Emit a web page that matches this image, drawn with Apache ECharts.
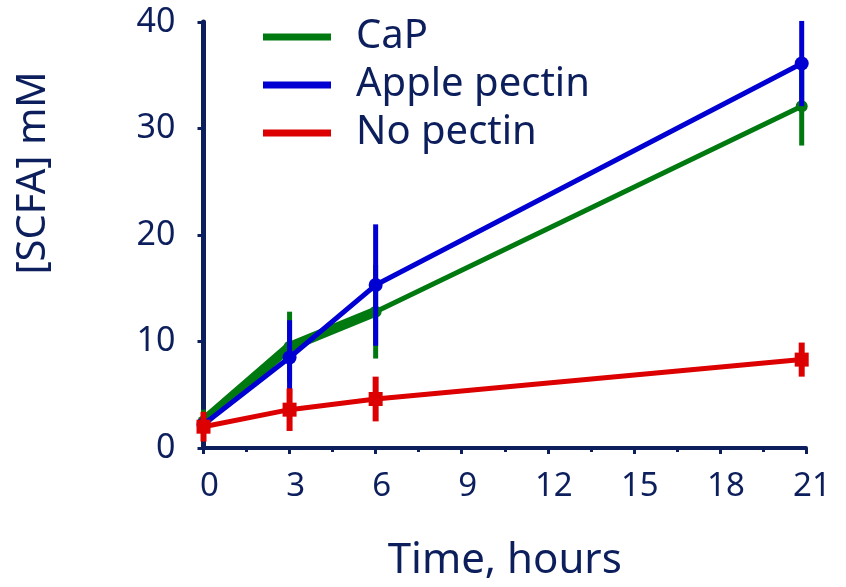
<!DOCTYPE html>
<html><head><meta charset="utf-8">
<script src="https://cdn.jsdelivr.net/npm/echarts@6/dist/echarts.min.js"></script>
<style>html,body{margin:0;padding:0;background:#fff}#c{width:846px;height:587px}</style>
</head><body><div id="c"></div>
<script>
var hours = [0, 3, 6, 20.85];
var capMean = [2.5, 9.5, 12.8, 32.1];
var capErr = [1.1, 3.3, 4.4, 3.7];
var appleMean = [2.2, 8.5, 15.3, 36.1];
var appleErr = [0.8, 3.5, 5.7, 4.0];
var noMean = [2.0, 3.6, 4.6, 8.3];
var noErr = [1.4, 2.0, 2.1, 1.6];
var xTicks = [0, 3, 6, 9, 12, 15, 18, 21];
var yTicks = [0, 10, 20, 30, 40];

var navy = '#0c1f5c';
var green = '#007a10', blue = '#0000d2', red = '#dd0000';
var font = 'Noto Sans';

function pts(m){ return hours.map(function(h,i){ return [h, m[i]]; }); }
function errs(m,e){ return hours.map(function(h,i){ return [h, m[i]-e[i], m[i]+e[i]]; }); }
function errSeries(m,e,color,w,z){
  return {type:'custom', z:z, silent:true, data: errs(m,e),
    renderItem:function(params, api){
      var a = api.coord([api.value(0), api.value(1)]);
      var b = api.coord([api.value(0), api.value(2)]);
      return {type:'line', shape:{x1:a[0],y1:a[1],x2:b[0],y2:b[1]}, style:{stroke:color, lineWidth:w}};
    }};
}

var chart = echarts.init(document.getElementById('c'));
chart.setOption({
  animation:false,
  grid:{left:203.5, right:40, top:22, bottom:139},
  legend:{orient:'vertical', left:258, top:12, itemGap:8, itemWidth:68, itemHeight:7,
    icon:'rect', data:['CaP','Apple pectin','No pectin'],
    textStyle:{fontFamily:font, fontSize:40, color:navy, padding:[18,0,0,20]}},
  xAxis:{type:'value', min:0, max:21, interval:3,
    name:'Time, hours', nameLocation:'middle', nameGap:92,
    nameTextStyle:{fontFamily:font, fontSize:42, color:navy},
    axisLine:{show:true, lineStyle:{color:navy, width:4}},
    axisTick:{show:true, length:6, lineStyle:{color:navy, width:3}},
    minorTick:{show:true, splitNumber:2, length:4, lineStyle:{color:navy, width:3}},
    splitLine:{show:false},
    axisLabel:{fontFamily:font, fontSize:33, color:navy, margin:22, padding:[0,0,0,12],
      customValues: xTicks}},
  yAxis:{type:'value', min:0, max:40, interval:10,
    name:'[SCFA] mM', nameLocation:'middle', nameGap:150, nameRotate:90,
    nameTextStyle:{fontFamily:font, fontSize:40, color:navy, padding:[0,0,0,124]},
    axisLine:{show:true, lineStyle:{color:navy, width:5}},
    axisTick:{show:true, length:6, lineStyle:{color:navy, width:3}},
    splitLine:{show:false},
    axisLabel:{fontFamily:font, fontSize:34, color:navy, margin:28, padding:[14,0,0,0]}},
  series:[
    {name:'CaP', type:'line', data:pts(capMean), z:3, symbol:'circle', symbolSize:12,
      itemStyle:{color:green}, lineStyle:{color:green, width:5}},
    {name:'CaP band', type:'line', data:pts(capMean).slice(0,3), z:3, symbol:'none',
      lineStyle:{color:green, width:10}, legendHoverLink:false},
    errSeries(capMean, capErr, green, 5, 4),
    {name:'Apple pectin', type:'line', data:pts(appleMean), z:5, symbol:'circle', symbolSize:14,
      itemStyle:{color:blue}, lineStyle:{color:blue, width:5}},
    errSeries(appleMean, appleErr, blue, 5, 6),
    {name:'No pectin', type:'line', data:pts(noMean), z:7, symbol:'rect', symbolSize:14,
      itemStyle:{color:red}, lineStyle:{color:red, width:5}},
    errSeries(noMean, noErr, red, 6, 8)
  ]
});
</script></body></html>
